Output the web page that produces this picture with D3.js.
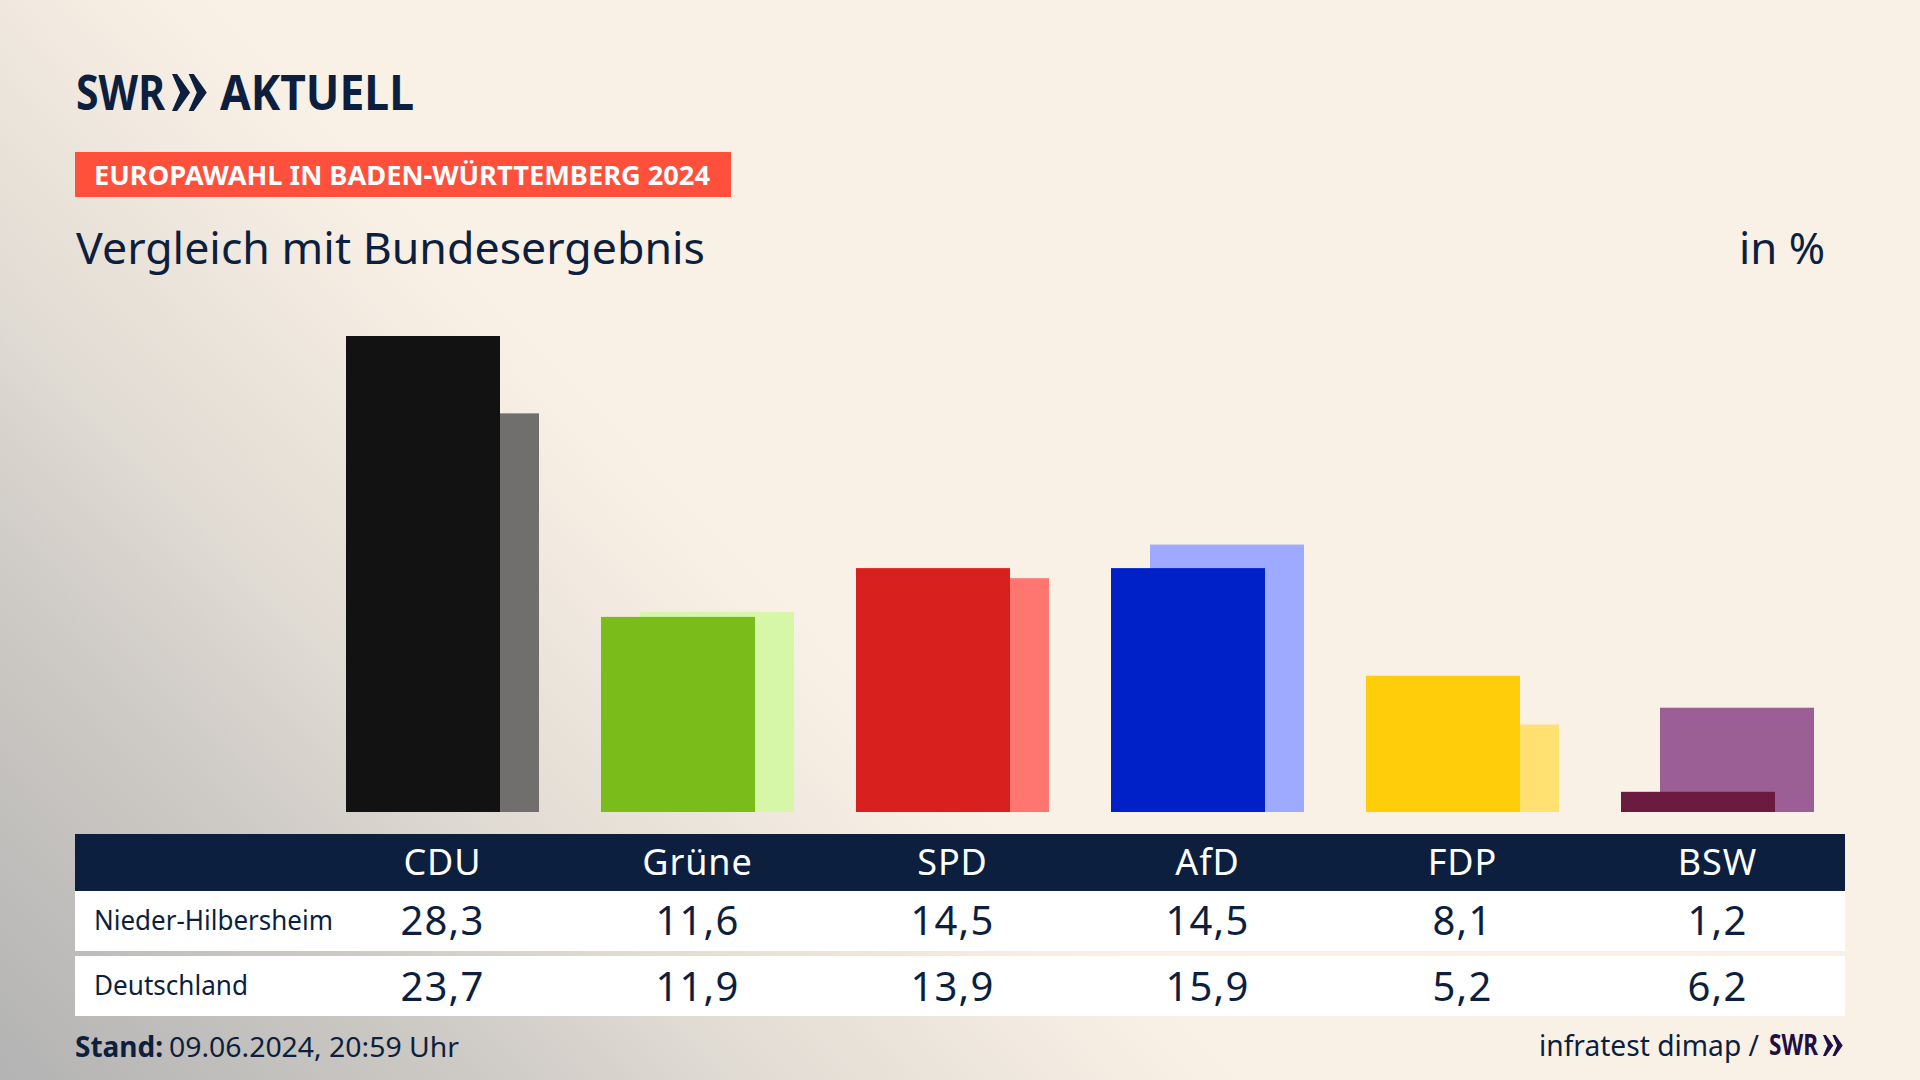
<!DOCTYPE html>
<html>
<head>
<meta charset="utf-8">
<script src="https://cdn.jsdelivr.net/npm/d3@7"></script>
<style>
  html, body { margin: 0; padding: 0; background: #faf1e6; }
  svg { display: block; }
  text { font-family: 'Noto Sans', sans-serif; fill: #0c1f3f; }
</style>
</head>
<body>
<svg id="chart" width="1920" height="1080"></svg>
<script>
const parties = ['CDU', 'Grüne', 'SPD', 'AfD', 'FDP', 'BSW'];
const localValues = [28.3, 11.6, 14.5, 14.5, 8.1, 1.2];
const federalValues = [23.7, 11.9, 13.9, 15.9, 5.2, 6.2];
const rowNames = ['Nieder-Hilbersheim', 'Deutschland'];
const frontColors = ['#121212', '#7abd1a', '#d8201e', '#0020c8', '#ffcd0a', '#6b1a40'];
const backColors = ['#706f6d', '#d6f7a8', '#ff7570', '#9eaaff', '#ffe172', '#9b5f96'];

const svg = d3.select('#chart');
const navy = '#0c1f3f';
const fmt = (v) => v.toFixed(1).replace('.', ',');

// background wash from the bottom left corner
const grad = svg.append('defs').append('linearGradient')
  .attr('id', 'wash')
  .attr('gradientUnits', 'userSpaceOnUse')
  .attr('x1', 0).attr('y1', 1080)
  .attr('x2', 652).attr('y2', 456);
[[0, '#b3b3b3'], [0.405, '#cfcbc6'], [0.595, '#e0dbd3'], [0.707, '#e8e1d8'], [0.84, '#f1e9df'], [1, '#faf1e6']]
  .forEach(([o, c]) => {
    grad.append('stop').attr('offset', o).attr('stop-color', c);
  });
svg.append('rect').attr('width', 1920).attr('height', 1080).attr('fill', 'url(#wash)');

const x = d3.scalePoint().domain(parties).range([442.5, 1717.5]);
const y = d3.scaleLinear().domain([0, 28.3]).range([812, 336]);
const barWidth = 154;

const addText = (sel, str, px, py, size, opts = {}) => {
  const t = sel.append('text')
    .attr('x', px).attr('y', py)
    .attr('font-size', size)
    .attr('font-weight', opts.weight || 400)
    .attr('text-anchor', opts.anchor || 'start')
    .text(str);
  if (opts.fill) t.style('fill', opts.fill);
  if (opts.spacing) t.attr('letter-spacing', opts.spacing);
  if (opts.len) t.attr('textLength', opts.len).attr('lengthAdjust', 'spacingAndGlyphs');
  return t;
};

const chevrons = (px, py, h, fill) => {
  const w = h * 0.49;
  [0, 0.45].forEach((k) => {
    const ox = px + k * h;
    svg.append('path')
      .attr('d', `M${ox},${py} L${ox + w * 0.28},${py} L${ox + w},${py + h / 2} L${ox + w * 0.28},${py + h} L${ox},${py + h} L${ox + w * 0.45},${py + h / 2} Z`)
      .attr('fill', fill);
  });
};

// header
addText(svg, 'SWR', 76, 110, 48, { weight: 700, len: 89 });
chevrons(172, 74, 37, navy);
addText(svg, 'AKTUELL', 220, 110, 48, { weight: 700, len: 194 });

svg.append('rect').attr('x', 75).attr('y', 152).attr('width', 656).attr('height', 45).attr('fill', '#ff503c');
addText(svg, 'EUROPAWAHL IN BADEN-WÜRTTEMBERG 2024', 94, 185, 27, { weight: 700, len: 616, fill: '#fff' });
addText(svg, 'Vergleich mit Bundesergebnis', 76, 264, 43, { len: 629 });
addText(svg, 'in %', 1825, 264, 43, { anchor: 'end', len: 86 });

// bars, federal result behind the local one
svg.append('g').selectAll('rect')
  .data(parties)
  .join('rect')
  .attr('x', (d) => x(d) - 57.5)
  .attr('y', (d, i) => y(federalValues[i]))
  .attr('width', barWidth)
  .attr('height', (d, i) => y(0) - y(federalValues[i]))
  .attr('fill', (d, i) => backColors[i]);

svg.append('g').selectAll('rect')
  .data(parties)
  .join('rect')
  .attr('x', (d) => x(d) - 96.5)
  .attr('y', (d, i) => y(localValues[i]))
  .attr('width', barWidth)
  .attr('height', (d, i) => y(0) - y(localValues[i]))
  .attr('fill', (d, i) => frontColors[i]);

// table
svg.append('rect').attr('x', 75).attr('y', 834).attr('width', 1770).attr('height', 57).attr('fill', navy);
svg.append('rect').attr('x', 75).attr('y', 891).attr('width', 1770).attr('height', 60).attr('fill', '#fff');
svg.append('rect').attr('x', 75).attr('y', 956).attr('width', 1770).attr('height', 60).attr('fill', '#fff');

parties.forEach((p, i) => {
  addText(svg, p, x(p), 875, 36, { anchor: 'middle', fill: '#fff', spacing: 0.9 });
  addText(svg, fmt(localValues[i]), x(p), 935, 40, { anchor: 'middle', spacing: 1.2 });
  addText(svg, fmt(federalValues[i]), x(p), 1001, 40, { anchor: 'middle', spacing: 1.2 });
});
addText(svg, rowNames[0], 94, 930, 27, { len: 239 });
addText(svg, rowNames[1], 94, 995, 27, { len: 154 });

// footer
addText(svg, 'Stand:', 75, 1057, 28, { weight: 700, len: 88 });
addText(svg, '09.06.2024, 20:59 Uhr', 169, 1057, 28, { len: 290 });
addText(svg, 'infratest dimap /', 1539, 1056, 29, { len: 220 });
addText(svg, 'SWR', 1769, 1055, 28, { weight: 700, len: 49, fill: '#1f0f45' });
chevrons(1823, 1035, 21, '#1f0f45');
</script>
</body>
</html>
